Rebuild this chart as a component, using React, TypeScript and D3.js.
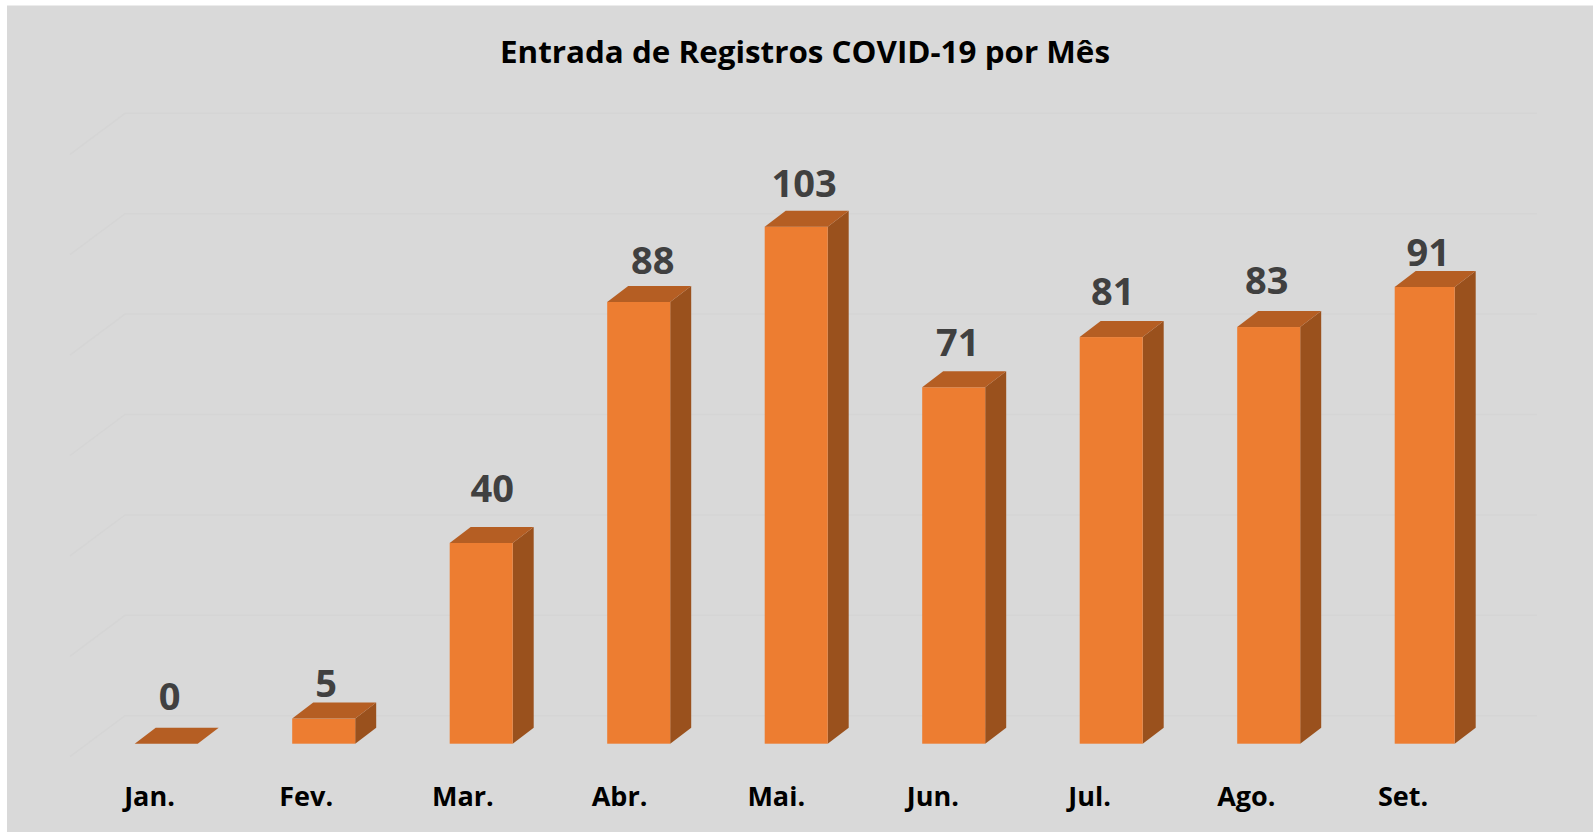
import React from "react";
import * as d3 from "d3";

const title = "Entrada de Registros COVID-19 por Mês";
const months = ["Jan.", "Fev.", "Mar.", "Abr.", "Mai.", "Jun.", "Jul.", "Ago.", "Set."];
const registros = [0, 5, 40, 88, 103, 71, 81, 83, 91];
const gridTicks = [0, 20, 40, 60, 80, 100, 120];

// manual placement of the data labels, relative to the back-right of each bar top
const labelShiftX = [3.5, 2.5, 11, 14, 8, 4, 1.5, -2, 2];
const labelGap = [18, 5.5, 24.5, 11.5, 14, 15, 16.5, 17, 5];

const W = 1593, H = 832;
const BASE_Y = 743.7;
const DEPTH_X = 21, DEPTH_Y = 16;
const GRID_DX = 55, GRID_DY = 41;
const FONT = "'Open Sans', 'Noto Sans', sans-serif";

const x = d3.scaleBand<string>().domain(months).range([134.7, 1457.7]).paddingInner(0.6).paddingOuter(0);
const y = d3.scaleLinear().domain([0, 120]).range([BASE_Y, BASE_Y - 602.4]);
const gridY = d3.scaleLinear().domain([0, 120]).range([715.7, 113.3]);
const catX = d3.scalePoint<string>().domain(months).range([149.5, 1403]);
const poly = d3.line();

export default function App() {
  return (
    <svg width={W} height={H} viewBox={`0 0 ${W} ${H}`} style={{ position: "absolute", left: 0, top: 0, display: "block" }}>
      <rect width={W} height={H} fill="#ffffff" />
      <rect x={7} y={5.5} width={W - 7} height={H - 5.5} fill="#d9d9d9" />
      <text x={805} y={63} textAnchor="middle" fontFamily={FONT} fontWeight={700} fontSize={31} fill="#000" textLength={610} lengthAdjust="spacingAndGlyphs">{title}</text>

      {gridTicks.map((t) => (
        <path key={t} d={poly([[125 - GRID_DX, gridY(t) + GRID_DY], [125, gridY(t)], [1537, gridY(t)]]) || ""} fill="none" stroke="#d5d5d5" strokeWidth={1.5} />
      ))}

      {registros.map((v, i) => {
        const m = months[i];
        const x0 = x(m) as number;
        const bw = i === months.length - 1 ? x.bandwidth() - 3 : x.bandwidth();
        const yTop = y(v);
        const x1 = x0 + bw;
        const top = poly([[x0, yTop], [x1, yTop], [x1 + DEPTH_X, yTop - DEPTH_Y], [x0 + DEPTH_X, yTop - DEPTH_Y]]) + "Z";
        const side = poly([[x1, yTop], [x1 + DEPTH_X, yTop - DEPTH_Y], [x1 + DEPTH_X, BASE_Y - DEPTH_Y], [x1, BASE_Y]]) + "Z";
        return (
          <g key={m}>
            {v > 0 && <path d={side} fill="#9a511d" />}
            {v > 0 && <rect x={x0} y={yTop} width={bw} height={BASE_Y - yTop} fill="#ed7d31" />}
            <path d={top} fill="#b55e23" />
            <text x={x0 + x.bandwidth() / 2 + labelShiftX[i]} y={yTop - DEPTH_Y - labelGap[i]} textAnchor="middle" fontFamily={FONT} fontWeight={700} fontSize={38} fill="#404040">{v}</text>
          </g>
        );
      })}

      {months.map((m) => (
        <text key={m} x={catX(m)} y={806} textAnchor="middle" fontFamily={FONT} fontWeight={700} fontSize={27} fill="#000">{m}</text>
      ))}
    </svg>
  );
}
